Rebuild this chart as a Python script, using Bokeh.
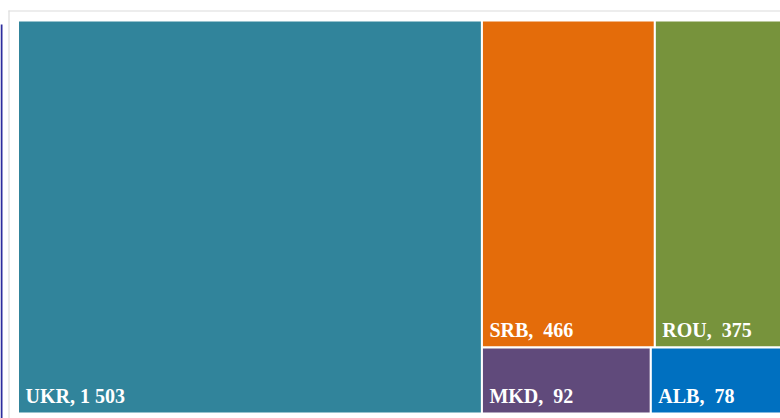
from bokeh.plotting import figure
from bokeh.models import Range1d, ColumnDataSource
from bokeh.core.properties import value
from bokeh.embed import file_html
from bokeh.resources import INLINE

# ---- data ----
countries = ["UKR", "SRB", "ROU", "MKD", "ALB"]
amounts = [1503, 466, 375, 92, 78]
colors = ["#31849B", "#E46C0A", "#77933C", "#604A7B", "#0070C0"]

# ---- geometry (screen pixels, y down) ----
FIG_W, FIG_H = 780, 418
BOX_X0, BOX_Y0 = 17.5, 20.0      # treemap box top-left
BOX_W, BOX_H = 776.0, 393.0      # treemap box size (extends past the view, clipped)

NBSP = "\u00a0"


def layout(vals, x0, y0, w, h):
    """First item takes a full-height column; the rest are stacked in rows of two."""
    total = float(sum(vals))
    rects = []
    w0 = w * vals[0] / total
    rects.append((x0, y0, x0 + w0, y0 + h))
    rest = vals[1:]
    rx0, rw = x0 + w0, w - w0
    rest_total = float(sum(rest))
    cy = y0
    for i in range(0, len(rest), 2):
        row = rest[i:i + 2]
        rh = h * sum(row) / rest_total
        cx = rx0
        for v in row:
            cw = rw * v / sum(row)
            rects.append((cx, cy, cx + cw, cy + rh))
            cx += cw
        cy += rh
    return rects


def fmt(name, v):
    s = f"{v:,}".replace(",", NBSP)
    sep = "," + NBSP if v >= 1000 else "," + NBSP + NBSP
    return name + sep + s


rects = layout(amounts, BOX_X0, BOX_Y0, BOX_W, BOX_H)
src = ColumnDataSource(dict(
    left=[r[0] for r in rects], right=[r[2] for r in rects],
    top=[r[1] for r in rects], bottom=[r[3] for r in rects],
    color=colors,
    tx=[r[0] + 7.5 for r in rects],
    ty=[r[3] - 17.5 for r in rects],
    label=[fmt(n, v) for n, v in zip(countries, amounts)],
))

p = figure(width=FIG_W, height=FIG_H, output_backend="svg", toolbar_location=None,
           x_range=Range1d(0, FIG_W), y_range=Range1d(FIG_H, 0),
           min_border=0, min_border_left=0, min_border_right=0,
           min_border_top=0, min_border_bottom=0)
p.axis.visible = False
p.grid.visible = False
p.outline_line_color = None
p.background_fill_color = "white"
p.border_fill_color = "white"

# light frame lines and dark left edge line
p.segment(x0=[8.5, 8], y0=[10, 10.5], x1=[8.5, FIG_W], y1=[FIG_H, 10.5],
          line_color="#dcdcdc", line_width=1.2)
p.segment(x0=[1.0], y0=[24], x1=[1.0], y1=[FIG_H], line_color="#2e2e9e", line_width=2)

p.quad(left="left", right="right", top="top", bottom="bottom", source=src,
       fill_color="color", line_color="white", line_width=2)
p.text(x="tx", y="ty", text="label", source=src, text_color="white",
       text_font=value("Liberation Serif"), text_font_style="bold",
       text_font_size="20px", text_baseline="alphabetic", text_align="left")

open("out.html", "w").write(file_html(p, INLINE))
